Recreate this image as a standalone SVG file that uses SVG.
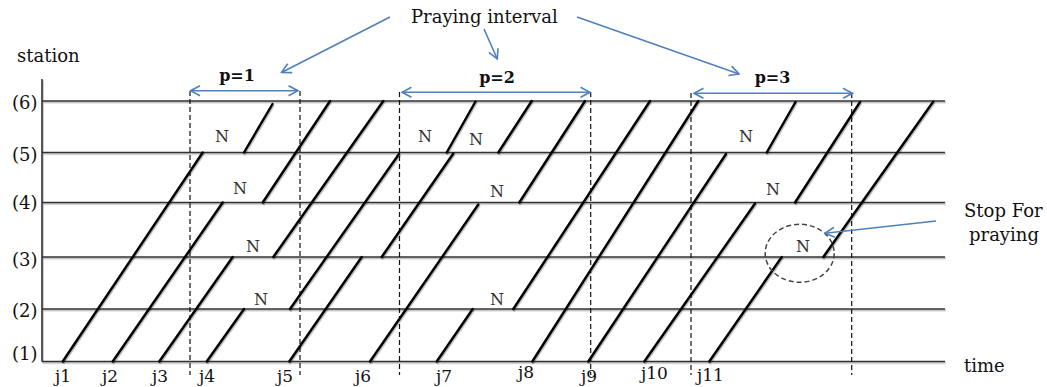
<svg xmlns="http://www.w3.org/2000/svg" width="1047" height="387" viewBox="0 0 1047 387">
<style>
  text { font-family: "DejaVu Serif", "Liberation Serif", serif; fill: #111; }
  .lbl { font-size: 18px; }
  .st { font-size: 18px; }
  .n { font-size: 16px; fill: #333; text-anchor: middle; }
  .p { font-size: 16px; text-anchor: middle; font-weight: bold; }
  .j { font-size: 17px; }
  .hl { stroke: #333; stroke-width: 1.6; fill: none; }
  .tr { stroke: #000; stroke-width: 2.4; fill: none; stroke-linecap: round; }
  .dash { stroke: #111; stroke-width: 1.2; stroke-dasharray: 5 3; fill: none; }
  .blue { stroke: #4f81bd; stroke-width: 1.6; fill: none; }
</style>
<defs>
  <filter id="sh" x="-5%" y="-5%" width="110%" height="110%">
    <feDropShadow dx="0.8" dy="1.4" stdDeviation="0.7" flood-color="#000" flood-opacity="0.3"/>
  </filter>
  <marker id="ah" viewBox="0 0 12 12" refX="11" refY="6" markerWidth="12" markerHeight="12" markerUnits="userSpaceOnUse" orient="auto-start-reverse">
    <path d="M1.5,1 L11,6 L1.5,11" fill="none" stroke="#4f81bd" stroke-width="1.6"/>
  </marker>
</defs>

<g id="axes" filter="url(#sh)">
  <line class="hl" x1="42" y1="79" x2="42" y2="361.5"/>
  <line class="hl" x1="42" y1="101" x2="945" y2="101"/>
  <line class="hl" x1="42" y1="152.5" x2="945" y2="152.5"/>
  <line class="hl" x1="42" y1="202.5" x2="945" y2="202.5"/>
  <line class="hl" x1="42" y1="257" x2="945" y2="257"/>
  <line class="hl" x1="42" y1="309" x2="945" y2="309"/>
  <line class="hl" x1="42" y1="361.5" x2="945" y2="361.5"/>
</g>

<g id="axis-labels">
  <text class="lbl" x="17" y="62">station</text>
  <text class="st" x="12" y="109">(6)</text>
  <text class="st" x="12" y="161">(5)</text>
  <text class="st" x="12" y="209">(4)</text>
  <text class="st" x="12" y="266">(3)</text>
  <text class="st" x="12" y="317">(2)</text>
  <text class="st" x="12" y="360">(1)</text>
  <text class="lbl" x="964" y="372">time</text>
</g>

<g id="intervals">
  <line class="dash" x1="190" y1="91" x2="190" y2="375"/>
  <line class="dash" x1="300" y1="91" x2="300" y2="375"/>
  <line class="dash" x1="399.5" y1="92" x2="399.5" y2="375"/>
  <line class="dash" x1="590.7" y1="92" x2="590.7" y2="375"/>
  <line class="dash" x1="691" y1="93" x2="691" y2="375"/>
  <line class="dash" x1="851.7" y1="93" x2="851.7" y2="375"/>
</g>

<g id="trains" filter="url(#sh)">
  <g id="j1"><line class="tr" x1="62.7" y1="361.5" x2="202.7" y2="152.5"/><line class="tr" x1="244" y1="152.5" x2="272.5" y2="104"/></g>
  <g id="j2"><line class="tr" x1="112.7" y1="361.5" x2="222.7" y2="202.5"/><line class="tr" x1="262.7" y1="202.5" x2="330" y2="101"/></g>
  <g id="j3"><line class="tr" x1="159.3" y1="361.5" x2="232.7" y2="257"/><line class="tr" x1="273.3" y1="257" x2="383.3" y2="101"/></g>
  <g id="j4"><line class="tr" x1="206.7" y1="361.5" x2="244" y2="309"/><line class="tr" x1="290" y1="309" x2="399" y2="154"/><line class="tr" x1="446.7" y1="152.5" x2="475.5" y2="101.5"/></g>
  <g id="j5"><line class="tr" x1="289.3" y1="361.5" x2="361.7" y2="257"/><line class="tr" x1="381.7" y1="257" x2="453.3" y2="153.5"/><line class="tr" x1="498.3" y1="152.5" x2="531.7" y2="101"/></g>
  <g id="j6"><line class="tr" x1="370" y1="361.5" x2="478.3" y2="204.5"/><line class="tr" x1="519.3" y1="202.5" x2="585" y2="101"/></g>
  <g id="j7"><line class="tr" x1="436.7" y1="361.5" x2="472.7" y2="309"/><line class="tr" x1="513.3" y1="309" x2="650" y2="101"/></g>
  <g id="j8"><line class="tr" x1="532.3" y1="361.5" x2="698.3" y2="101"/></g>
  <g id="j9"><line class="tr" x1="588.3" y1="361.5" x2="726" y2="154"/><line class="tr" x1="766.7" y1="152.5" x2="795.5" y2="102"/></g>
  <g id="j10"><line class="tr" x1="644.3" y1="361.5" x2="755" y2="203.5"/><line class="tr" x1="795" y1="202.5" x2="860" y2="102"/></g>
  <g id="j11"><line class="tr" x1="709.3" y1="361.5" x2="781.7" y2="257"/><line class="tr" x1="823.3" y1="257" x2="933.3" y2="101.5"/></g>
</g>

<g id="train-labels">
  <text class="j" x="55" y="382">j1</text>
  <text class="j" x="102" y="382">j2</text>
  <text class="j" x="152" y="382">j3</text>
  <text class="j" x="199" y="382">j4</text>
  <text class="j" x="277" y="382">j5</text>
  <text class="j" x="355" y="382">j6</text>
  <text class="j" x="436" y="382">j7</text>
  <text class="j" x="518" y="378">j8</text>
  <text class="j" x="581" y="382">j9</text>
  <text class="j" x="641" y="379">j10</text>
  <text class="j" x="697" y="381">j11</text>
</g>

<g id="stops">
  <text class="n" x="222" y="142">N</text>
  <text class="n" x="240" y="194">N</text>
  <text class="n" x="253" y="252">N</text>
  <text class="n" x="261" y="305">N</text>
  <text class="n" x="425" y="142">N</text>
  <text class="n" x="476" y="145">N</text>
  <text class="n" x="497" y="197">N</text>
  <text class="n" x="497" y="305">N</text>
  <text class="n" x="746" y="142">N</text>
  <text class="n" x="773" y="195">N</text>
  <text class="n" x="803" y="252">N</text>
  <ellipse cx="799.7" cy="253.3" rx="34.5" ry="29" fill="none" stroke="#444" stroke-width="1.5" stroke-dasharray="5 3"/>
</g>

<g id="annotations">
  <text class="lbl" x="411" y="23">Praying interval</text>
  <text class="p" x="237" y="81">p=1</text>
  <text class="p" x="497" y="83">p=2</text>
  <text class="p" x="772.5" y="83">p=3</text>
  <text class="lbl" x="964" y="217">Stop For</text>
  <text class="lbl" x="969" y="241">praying</text>
</g>

<g id="connectors">
  <line class="blue" x1="390" y1="17" x2="281.5" y2="72.5" marker-end="url(#ah)"/>
  <line class="blue" x1="484" y1="29" x2="497.3" y2="59" marker-end="url(#ah)"/>
  <line class="blue" x1="577" y1="17" x2="739" y2="74" marker-end="url(#ah)"/>
  <line class="blue" x1="936" y1="221" x2="825" y2="233.3" marker-end="url(#ah)"/>
  <line class="blue" x1="190.5" y1="90.7" x2="298" y2="90.7" marker-start="url(#ah)" marker-end="url(#ah)"/>
  <line class="blue" x1="402" y1="92.3" x2="590" y2="92.3" marker-start="url(#ah)" marker-end="url(#ah)"/>
  <line class="blue" x1="694" y1="93.3" x2="852.5" y2="93.3" marker-start="url(#ah)" marker-end="url(#ah)"/>
</g>
</svg>
